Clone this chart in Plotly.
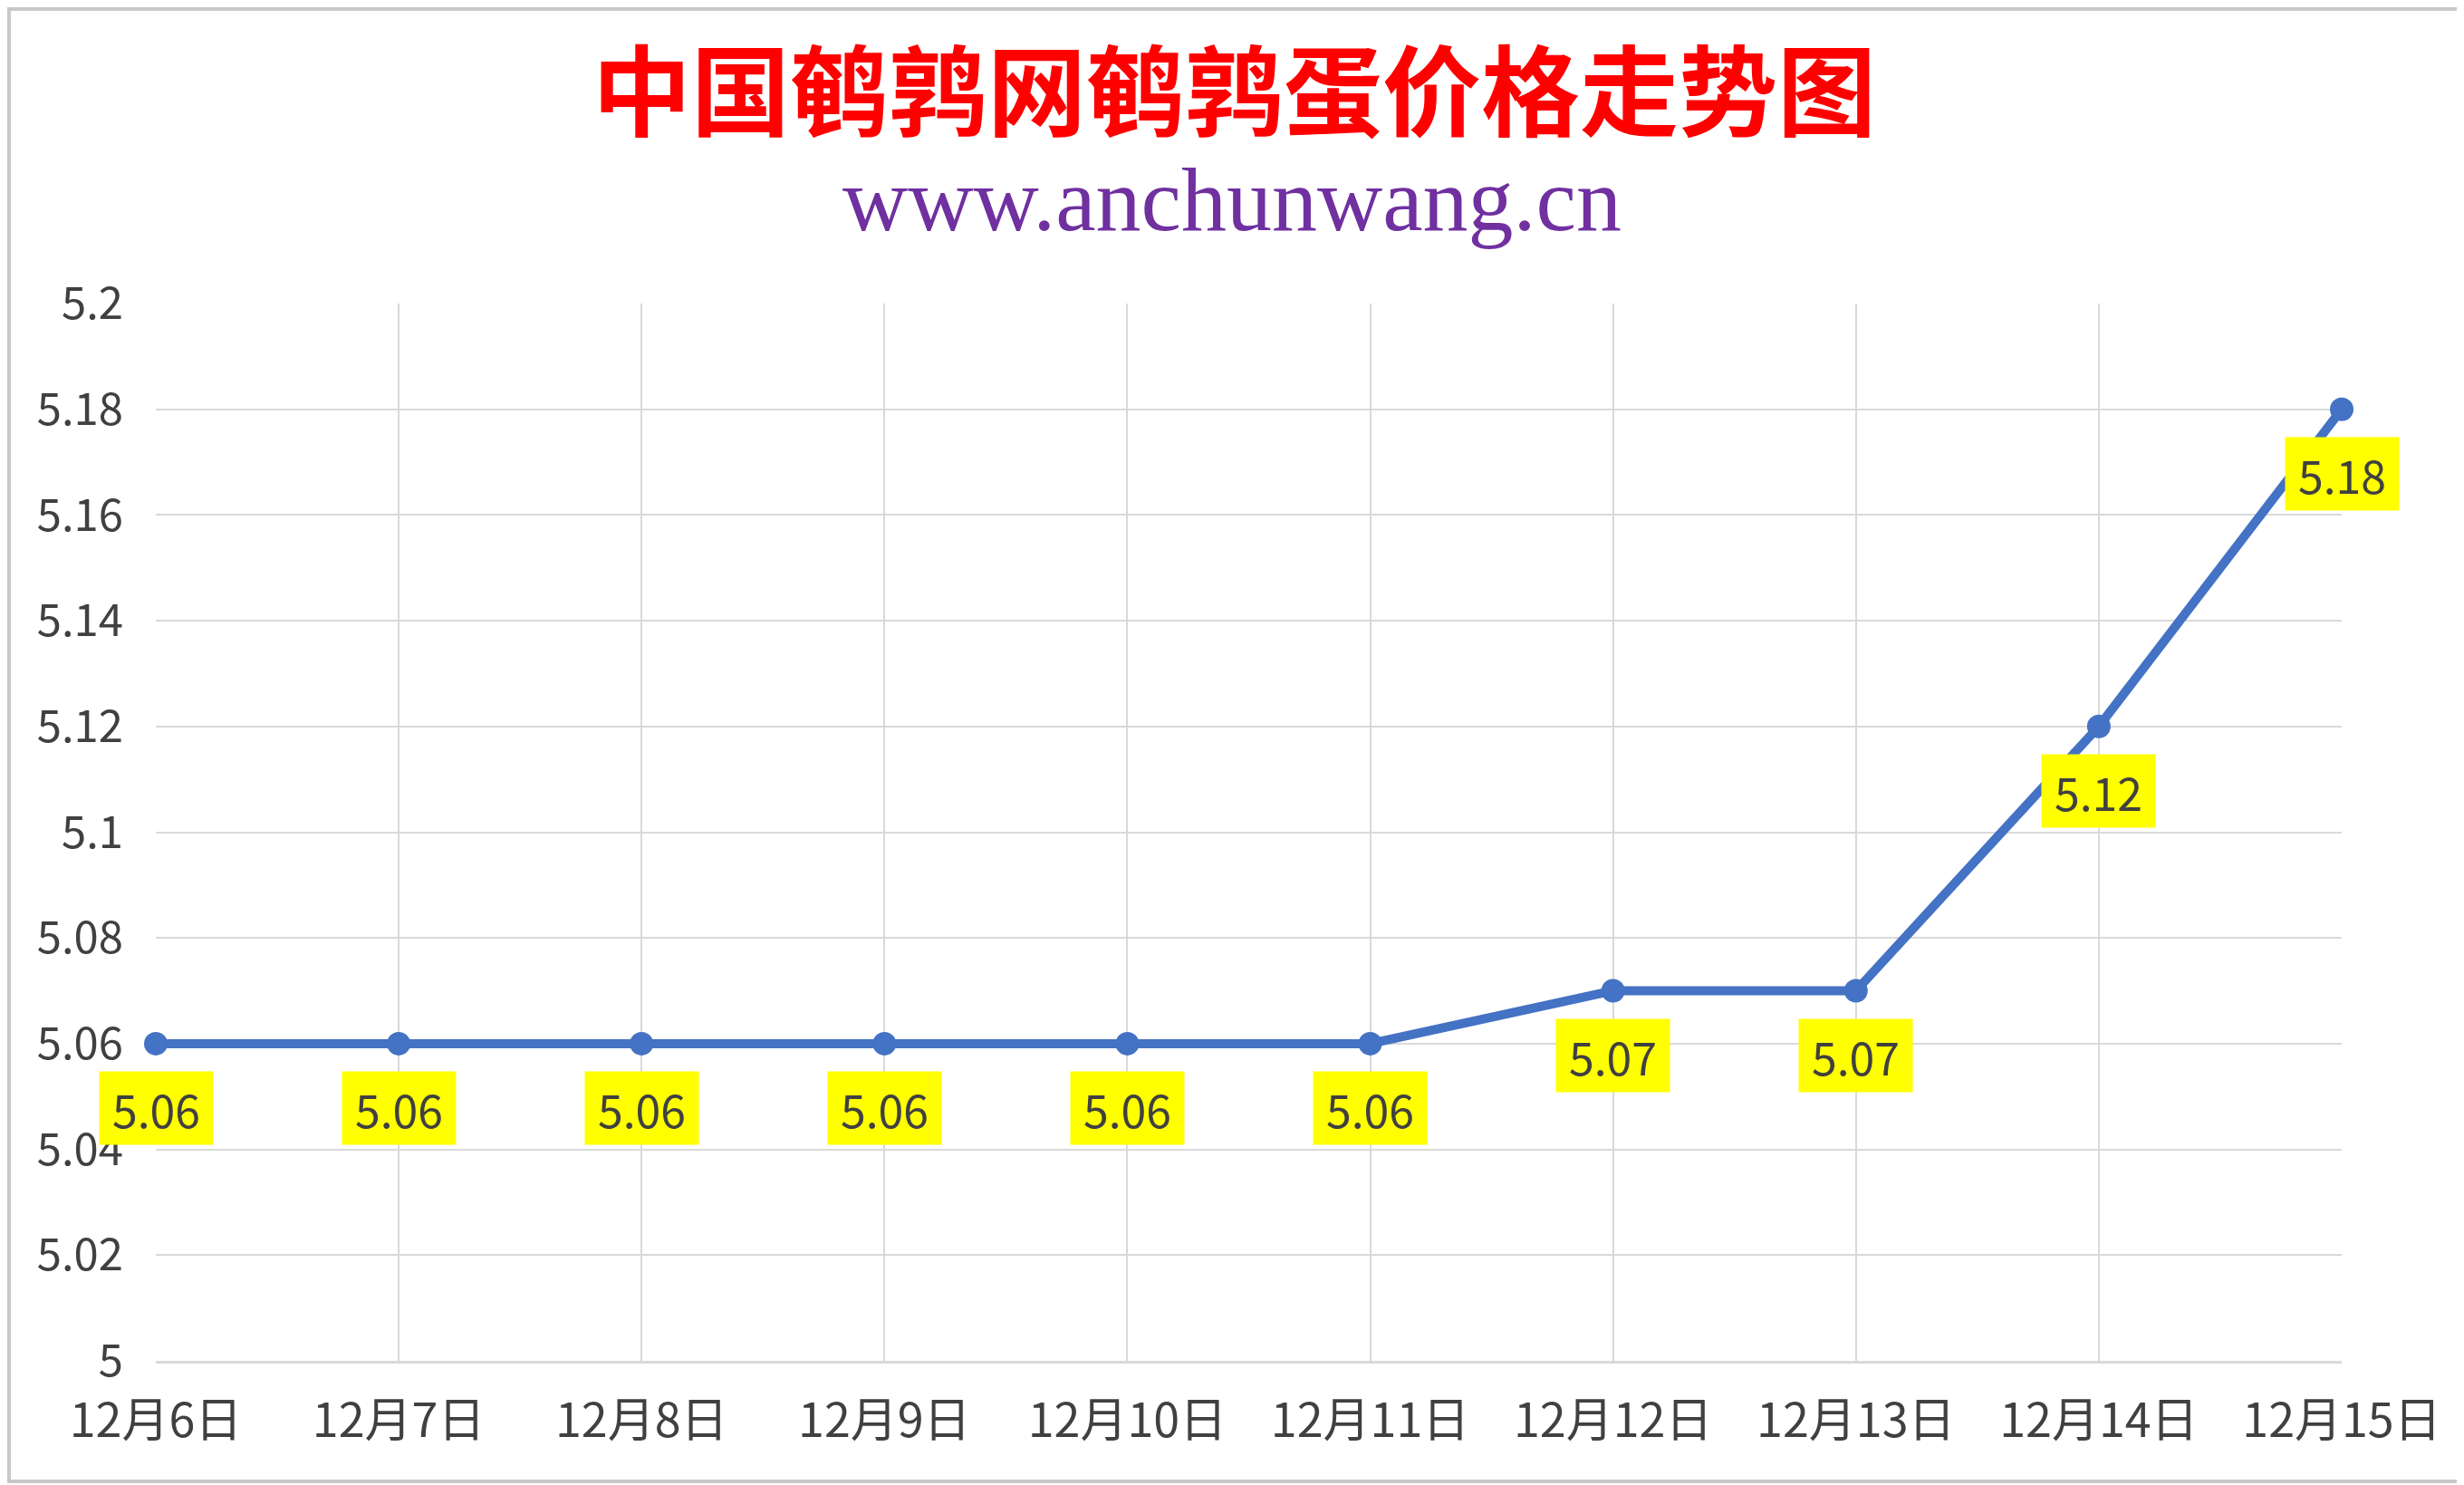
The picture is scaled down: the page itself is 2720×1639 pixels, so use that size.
import plotly.graph_objects as go

# ===== DATA =====
dates = ["12月6日", "12月7日", "12月8日", "12月9日", "12月10日",
         "12月11日", "12月12日", "12月13日", "12月14日", "12月15日"]
prices = [5.06, 5.06, 5.06, 5.06, 5.06, 5.06, 5.07, 5.07, 5.12, 5.18]
y_ticks = [5.0, 5.02, 5.04, 5.06, 5.08, 5.1, 5.12, 5.14, 5.16, 5.18, 5.2]
y_tick_labels = ["5", "5.02", "5.04", "5.06", "5.08", "5.1", "5.12", "5.14", "5.16", "5.18", "5.2"]

title_text = "中国鹌鹑网鹌鹑蛋价格走势图"
subtitle_text = "www.anchunwang.cn"

# ===== STYLE =====
# page body has an 8px margin, so the figure is shrunk and shifted to line up
OFF = 8
W, H = 2720 - OFF, 1639 - OFF
M = dict(l=172 - OFF, r=135, t=335 - OFF, b=137)
line_color = "#4472C4"
grid_color = "#D9D9D9"
text_color = "#404040"
cjk_font = "Noto Sans CJK SC"

pw = W - M["l"] - M["r"]
ph = H - M["t"] - M["b"]


def paper_x(px_from_left):
    return (px_from_left - OFF - M["l"]) / pw


def paper_y(px_from_top):
    # pixel row of the page -> paper coordinate of the plot area
    return (H - M["b"] - (px_from_top - OFF)) / ph


fig = go.Figure()

fig.add_trace(go.Scatter(
    x=dates,
    y=prices,
    mode="lines+markers",
    line=dict(color=line_color, width=10),
    marker=dict(color=line_color, size=26),
    cliponaxis=False,
    showlegend=False,
    hoverinfo="skip",
))

# yellow data labels under every point
for d, p in zip(dates, prices):
    fig.add_annotation(
        x=d, y=p, text=f"{p:.2f}",
        showarrow=False, yshift=-71,
        xanchor="center", yanchor="middle",
        width=125, height=80,
        bgcolor="#FFFF00", borderpad=0,
        font=dict(family=cjk_font, size=50, color=text_color),
    )

# titles
fig.add_annotation(
    x=paper_x(1362), y=paper_y(95), xref="paper", yref="paper",
    text=title_text, showarrow=False,
    xanchor="center", yanchor="middle",
    font=dict(family=cjk_font, size=109, color="#FF0000", weight="bold"),
)
fig.add_annotation(
    x=paper_x(1360), y=paper_y(221), xref="paper", yref="paper",
    text=subtitle_text, showarrow=False,
    xanchor="center", yanchor="middle",
    font=dict(family="Liberation Serif", size=100, color="#7030A0"),
)

# chart border
fig.add_shape(
    type="rect", xref="paper", yref="paper",
    x0=-(M["l"] - 2) / pw, x1=1 + (M["r"] - 4) / pw,
    y0=-(M["b"] - 4) / ph, y1=1 + (M["t"] - 2) / ph,
    line=dict(color="#C8C8C8", width=4), layer="below",
)

fig.update_layout(
    width=W, height=H,
    margin=M,
    plot_bgcolor="white",
    paper_bgcolor="white",
    font=dict(family=cjk_font, color=text_color),
    xaxis=dict(
        type="category",
        range=[0, len(dates) - 1],
        showgrid=True, gridcolor=grid_color, gridwidth=2,
        showline=True, linecolor=grid_color, linewidth=3,
        ticks="", tickfont=dict(size=52, color=text_color),
        ticklabelstandoff=19,
        zeroline=False,
    ),
    yaxis=dict(
        range=[5.0, 5.2],
        tickvals=y_ticks, ticktext=y_tick_labels,
        showgrid=True, gridcolor=grid_color, gridwidth=2,
        showline=False, ticks="",
        tickfont=dict(size=49, color=text_color),
        ticklabelstandoff=35,
        zeroline=False,
    ),
)

fig.write_html("out.html")
